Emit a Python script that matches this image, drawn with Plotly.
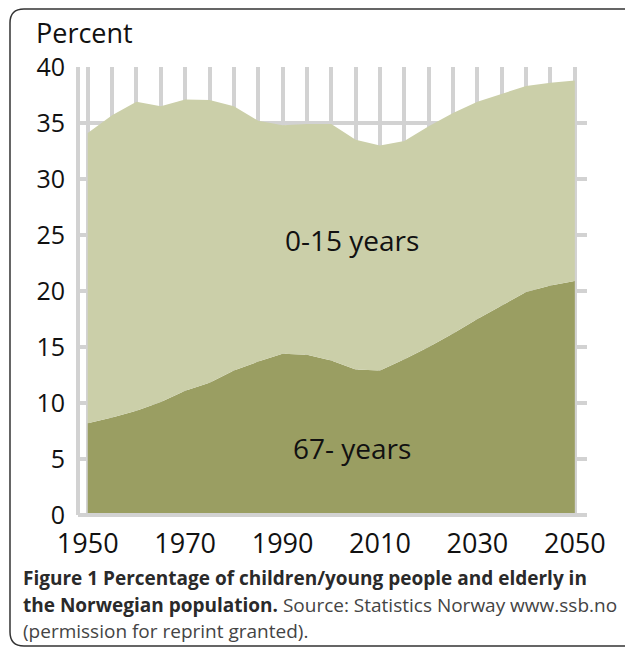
import plotly.graph_objects as go

years = [1950, 1955, 1960, 1965, 1970, 1975, 1980, 1985, 1990, 1995, 2000,
         2005, 2010, 2015, 2020, 2025, 2030, 2035, 2040, 2045, 2050]
elderly_67plus = [8.2, 8.7, 9.3, 10.1, 11.1, 11.8, 12.9, 13.7, 14.4, 14.3, 13.8,
                  13.0, 12.9, 13.9, 15.0, 16.2, 17.5, 18.7, 19.9, 20.5, 20.9]
young_0_15 = [25.9, 27.0, 27.6, 26.4, 26.0, 25.25, 23.6, 21.5, 20.4, 20.6, 21.1,
              20.5, 20.1, 19.5, 19.7, 19.7, 19.4, 18.9, 18.4, 18.1, 17.9]
x_tick_vals = [1950, 1970, 1990, 2010, 2030, 2050]
y_tick_vals = [0, 5, 10, 15, 20, 25, 30, 35, 40]

FONT = "Open Sans"
GRID = "#d2d2d2"

fig = go.Figure()
fig.add_trace(go.Scatter(x=years, y=elderly_67plus, stackgroup="one", mode="lines",
                         line=dict(width=0), fillcolor="#9a9e62", name="67- years",
                         hoverinfo="skip"))
fig.add_trace(go.Scatter(x=years, y=young_0_15, stackgroup="one", mode="lines",
                         line=dict(width=0), fillcolor="#cbcfa9", name="0-15 years",
                         hoverinfo="skip"))

L, R, T, B = 78, 38, 67, 134
W, H = 625, 649
pw, ph = W - L - R, H - T - B

def px(xp):
    return (xp - L) / pw

def py(yp):
    return (H - B - yp) / ph

fig.update_layout(
    width=W, height=H,
    margin=dict(l=L, r=R, t=T, b=B),
    paper_bgcolor="white", plot_bgcolor="white",
    showlegend=False,
    font=dict(family=FONT, color="#111111"),
    xaxis=dict(range=[1948.0, 2052.5], tickvals=x_tick_vals,
               ticktext=[str(v) for v in x_tick_vals],
               showgrid=True, gridcolor=GRID, gridwidth=4,
               minor=dict(dtick=5, tick0=1950, showgrid=True, gridcolor=GRID, gridwidth=4),
               showline=False, zeroline=False, ticks="",
               ticklabelstandoff=10,
               tickfont=dict(size=27, family=FONT, color="#111111")),
    yaxis=dict(range=[0, 40], tickvals=y_tick_vals,
               showgrid=True, gridcolor=GRID, gridwidth=4,
               showline=False, zeroline=False, ticks="",
               ticklabelstandoff=12,
               tickfont=dict(size=25, family=FONT, color="#111111")),
)

# left and bottom axis lines
fig.add_shape(type="line", xref="paper", yref="paper", x0=0, x1=0, y0=0, y1=1,
              line=dict(color=GRID, width=4), layer="above")
fig.add_shape(type="line", xref="paper", yref="paper", x0=0, x1=1, y0=0, y1=0,
              line=dict(color=GRID, width=4), layer="above")

# rounded frame
r = 14
fl, ft, fb, fr = 10, 9, 646, 640
def P(x, y):
    return f"{px(x):.5f},{py(y):.5f}"
path = (f"M {P(fr, ft)} L {P(fl + r, ft)} Q {P(fl, ft)} {P(fl, ft + r)} "
        f"L {P(fl, fb - r)} Q {P(fl, fb)} {P(fl + r, fb)} L {P(fr, fb)}")
fig.add_shape(type="path", xref="paper", yref="paper", path=path,
              line=dict(color="#333333", width=1.5))

fig.add_annotation(xref="paper", yref="paper", x=px(34), y=py(33),
                   xanchor="left", yanchor="middle", showarrow=False,
                   text="Percent", font=dict(size=27, family=FONT, color="#111111"))

fig.add_annotation(xref="paper", yref="paper", x=px(352), y=py(240),
                   xanchor="center", yanchor="middle", showarrow=False,
                   text="0-15 years", font=dict(size=28, family=FONT, color="#111111"))
fig.add_annotation(xref="paper", yref="paper", x=px(352), y=py(448),
                   xanchor="center", yanchor="middle", showarrow=False,
                   text="67- years", font=dict(size=28, family=FONT, color="#111111"))

cap = [
    "<b>Figure 1 Percentage of children/young people and elderly in</b>",
    "<b>the Norwegian population.</b> <span style='color:#444444'>Source: Statistics Norway www.ssb.no</span>",
    "<span style='color:#444444'>(permission for reprint granted).</span>",
]
for i, t in enumerate(cap):
    fig.add_annotation(xref="paper", yref="paper", x=px(21), y=py(578 + 26.5 * i),
                       xanchor="left", yanchor="middle", showarrow=False,
                       text=t, font=dict(size=19, family=FONT, color="#2a2a2a"))

fig.write_html("out.html", config={"displayModeBar": False},
               post_script="document.body.style.margin='0';")
